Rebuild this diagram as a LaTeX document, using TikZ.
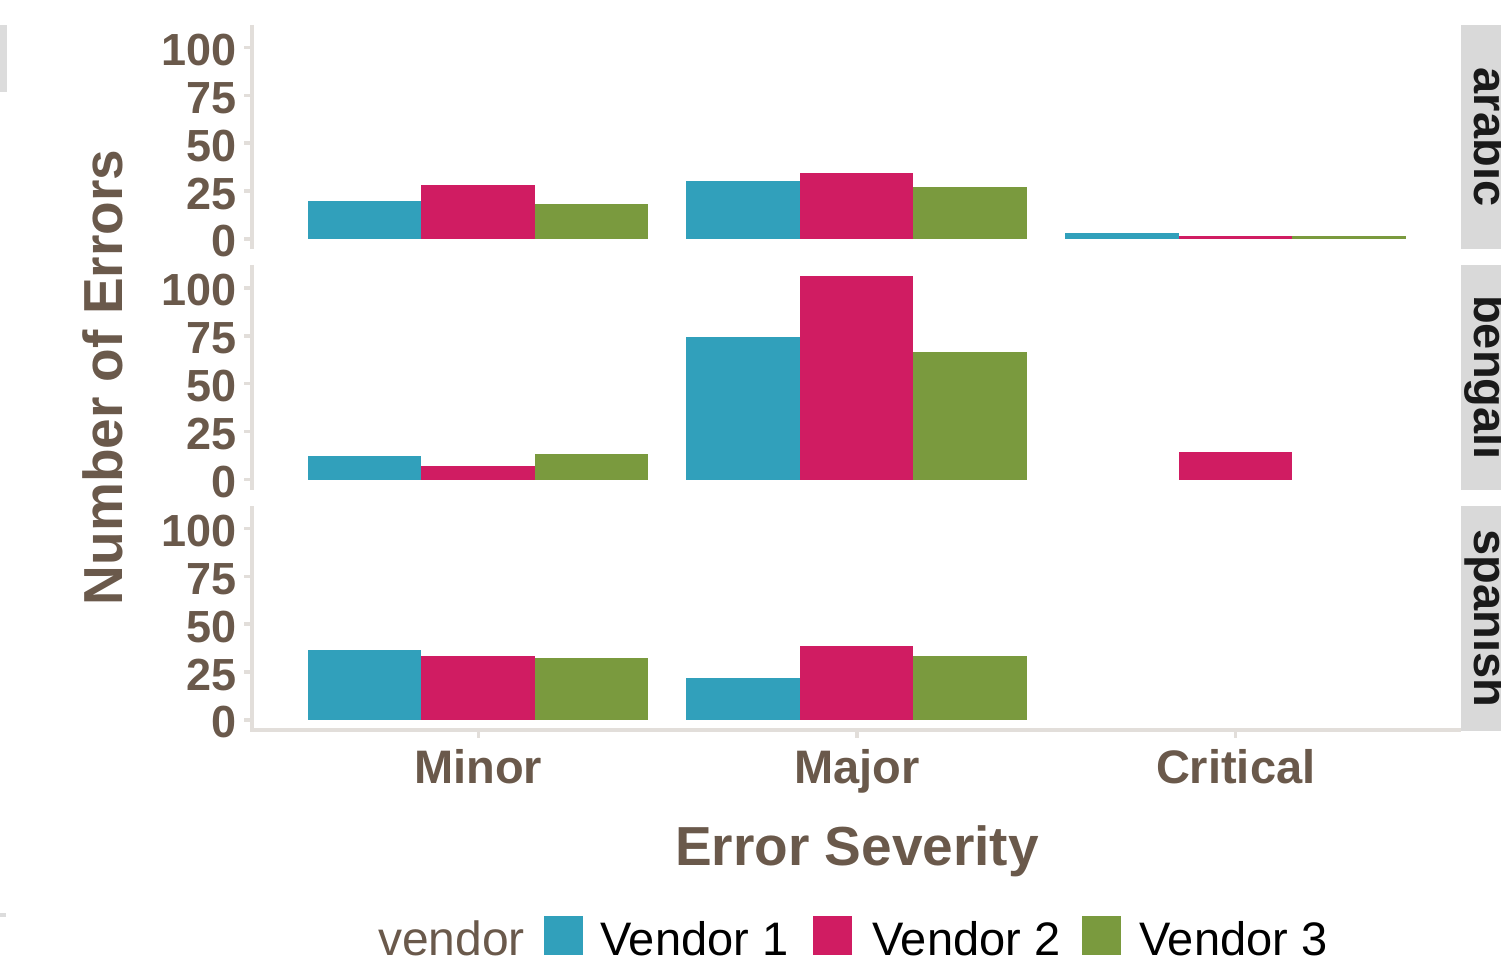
\documentclass[tikz,border=0pt]{standalone}
\usepackage{fontspec}
\setmainfont{Liberation Sans}
\definecolor{vone}{RGB}{49,160,187}
\definecolor{vtwo}{RGB}{208,28,98}
\definecolor{vthree}{RGB}{122,154,62}
\definecolor{inkbrown}{RGB}{106,89,75}
\definecolor{axisgray}{RGB}{226,222,218}
\definecolor{stripgray}{RGB}{217,217,217}
\definecolor{stripink}{RGB}{26,26,26}
\definecolor{edgegray}{RGB}{220,220,220}

% one bar: colour, left edge, zero line, value
\newcommand\chartbar[4]{\fill[#1] (#2,#3) rectangle ({#2+113.6},{#3-1.916*#4});}

\begin{document}
\begin{tikzpicture}[x=1pt,y=-1pt,
  axisline/.style={draw=axisgray,line width=4pt},
  tickline/.style={draw=axisgray,line width=3.5pt},
  ylab/.style={text=inkbrown,inner sep=0pt,anchor=east,font=\fontsize{45}{54}\selectfont\bfseries},
  xlab/.style={text=inkbrown,inner sep=0pt,anchor=base,font=\fontsize{47}{56}\selectfont\bfseries},
  axtitle/.style={text=inkbrown,inner sep=0pt,anchor=base,font=\fontsize{55}{66}\selectfont\bfseries},
  striptext/.style={text=stripink,inner sep=0pt,anchor=base,rotate=-90,font=\fontsize{47}{56}\selectfont\bfseries},
  legtext/.style={inner sep=0pt,anchor=base west,font=\fontsize{47}{56}\selectfont},
  keybox/.style={minimum width=39pt,minimum height=39pt,inner sep=0pt,anchor=north west}]
\useasboundingbox (0,0) rectangle (1501,973);

% edge marks
\fill[edgegray] (0,25) rectangle (7,92);
\fill[edgegray] (0,913) rectangle (6,917);

% facet strips (their outer part runs past the right edge)
\foreach \t/\b/\name in {25/249/arabic,265/490/bengali,506/730.5/spanish}{
  \fill[stripgray] (1461,\t) rectangle (1501,\b);
  \node[striptext] (strip-\name) at (1474,{(\t+\b)/2}) {\name};
}

% y axes with ticks and labels
\foreach \t/\b/\z/\p in {25/249/239/a,265/490/479.5/b,506/730/720/c}{
  \draw[axisline] (252,\t) -- (252,\b);
  \foreach \v in {0,25,50,75,100}{
    \draw[tickline] (244,{\z-1.916*\v}) -- (252,{\z-1.916*\v});
    \node[ylab] (ylab-\p-\v) at (237,{\z-1.916*\v+2.5}) {\v};
  }
}

% x axis with ticks
\draw[axisline] (250,730) -- (1461,730);
\foreach \c in {478.3,857,1235.7}{
  \draw[tickline] (\c,730) -- (\c,738);
}

% bars: Minor 307.5, Major 686.2, Critical 1064.9
% arabic
\chartbar{vone}{307.5}{239}{20}
\chartbar{vtwo}{421.1}{239}{28}
\chartbar{vthree}{534.7}{239}{18.5}
\chartbar{vone}{686.2}{239}{30.3}
\chartbar{vtwo}{799.8}{239}{34.5}
\chartbar{vthree}{913.4}{239}{27}
\chartbar{vone}{1064.9}{239}{3}
\chartbar{vtwo}{1178.5}{239}{1.7}
\chartbar{vthree}{1292.1}{239}{1.7}
% bengali
\chartbar{vone}{307.5}{479.5}{12.3}
\chartbar{vtwo}{421.1}{479.5}{7}
\chartbar{vthree}{534.7}{479.5}{13.3}
\chartbar{vone}{686.2}{479.5}{74.4}
\chartbar{vtwo}{799.8}{479.5}{106.2}
\chartbar{vthree}{913.4}{479.5}{66.5}
\chartbar{vtwo}{1178.5}{479.5}{14.4}
% spanish
\chartbar{vone}{307.5}{720}{36.5}
\chartbar{vtwo}{421.1}{720}{33.4}
\chartbar{vthree}{534.7}{720}{32.4}
\chartbar{vone}{686.2}{720}{22}
\chartbar{vtwo}{799.8}{720}{38.6}
\chartbar{vthree}{913.4}{720}{33.4}

% category labels
\node[xlab] (minor) at (478.3,783) {Minor};
\node[xlab] (major) at (857,783) {Major};
\node[xlab] (critical) at (1235.7,783) {Critical};

% axis titles
\node[axtitle] (xtitle) at (857,865) {Error Severity};
\node[axtitle,rotate=90] (ytitle) at (122,377.5) {Number of Errors};

% legend
\node[legtext,text=inkbrown,font=\fontsize{48}{57}\selectfont] (legtitle) at (378,955.7) {vendor};
\node[keybox,fill=vone] (key1) at (544,916) {};
\node[legtext] (leg1) at (600,955.7) {Vendor 1};
\node[keybox,fill=vtwo] (key2) at (813,916) {};
\node[legtext] (leg2) at (872,955.7) {Vendor 2};
\node[keybox,fill=vthree] (key3) at (1082,916) {};
\node[legtext] (leg3) at (1139,955.7) {Vendor 3};
\end{tikzpicture}
\end{document}
